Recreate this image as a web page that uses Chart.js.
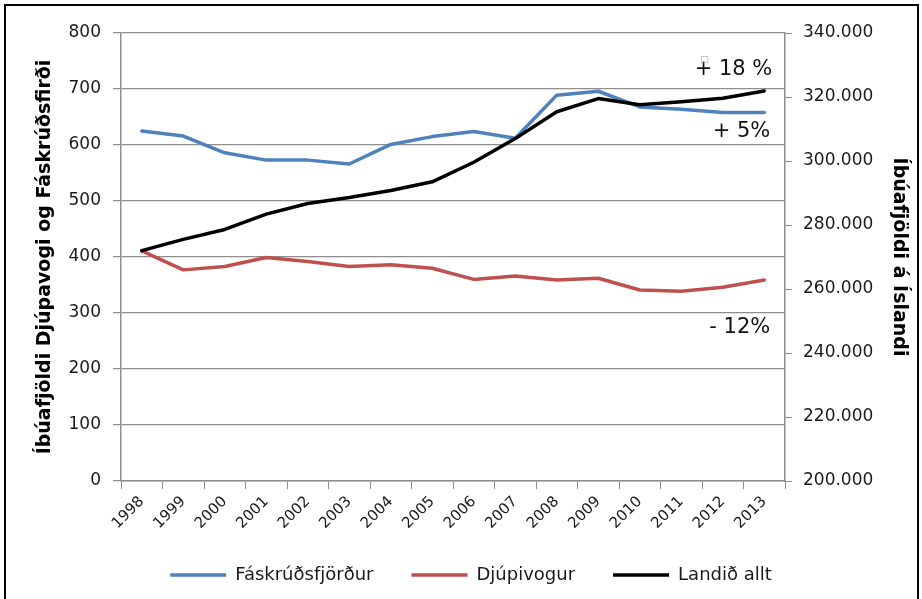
<!DOCTYPE html>
<html>
<head>
<meta charset="utf-8">
<script src="https://cdn.jsdelivr.net/npm/chart.js@4.4.1/dist/chart.umd.min.js"></script>
<style>
  html, body { margin: 0; padding: 0; background: #fff; overflow: hidden; }
  #wrap { position: relative; width: 922px; height: 599px; }
  #frame { position: absolute; left: 4px; top: 4px; width: 911px; height: 600px; border: 2px solid #000; pointer-events: none; }
</style>
</head>
<body>
<div id="wrap">
  <canvas id="c" width="922" height="599"></canvas>
  <div id="frame"></div>
</div>
<script>
const years = ['1998','1999','2000','2001','2002','2003','2004','2005','2006','2007','2008','2009','2010','2011','2012','2013'];
const faskrudsfjordur = [625,616,586,573,573,566,601,615,624,612,689,696,668,664,658,658];
const djupivogur = [411,377,383,399,392,383,386,380,360,366,359,362,341,339,346,359];
const landidAllt = [272000,275500,278600,283400,286700,288600,290800,293500,299600,307000,315400,319500,317600,318500,319600,321900];
const leftTicks = [0,100,200,300,400,500,600,700,800];
const rightTicks = [200000,220000,240000,260000,280000,300000,320000,340000];
const changeLabels = ['+ 18 %', '+ 5%', '- 12%'];

const FONT = "'DejaVu Sans', 'Liberation Sans', sans-serif";
const GRID = '#8e8e8e';
const TXT = '#1a1a1a';

const annot = {
  id: 'annot',
  afterDatasetsDraw(chart) {
    const ctx = chart.ctx;
    const x = chart.scales.x, yl = chart.scales.y, yr = chart.scales.y1;
    const last = years.length - 1;
    const px = x.getPixelForValue(last);
    const y18 = yr.getPixelForValue(landidAllt[last]) - 21;
    ctx.save();
    ctx.fillStyle = '#111';
    ctx.font = '21px ' + FONT;
    ctx.textAlign = 'right';
    ctx.textBaseline = 'middle';
    ctx.fillText(changeLabels[0], px + 8, y18);
    ctx.fillText(changeLabels[1], px + 6, yl.getPixelForValue(faskrudsfjordur[last]) + 19);
    ctx.fillText(changeLabels[2], px + 6, yl.getPixelForValue(djupivogur[last]) + 48);
    ctx.fillStyle = '#999';
    ctx.font = '9px ' + FONT;
    ctx.textAlign = 'left';
    ctx.fillText('\u25A1', px - 64, y18 - 10);
    ctx.restore();
  }
};

new Chart(document.getElementById('c'), {
  type: 'line',
  data: {
    labels: years,
    datasets: [
      { label: 'Fáskrúðsfjörður', data: faskrudsfjordur, yAxisID: 'y', borderColor: '#4F81BD', backgroundColor: '#4F81BD', borderWidth: 3.5, order: 1 },
      { label: 'Djúpivogur', data: djupivogur, yAxisID: 'y', borderColor: '#C0504D', backgroundColor: '#C0504D', borderWidth: 3.5, order: 2 },
      { label: 'Landið allt', data: landidAllt, yAxisID: 'y1', borderColor: '#000000', backgroundColor: '#000000', borderWidth: 3.5, order: 0 }
    ]
  },
  options: {
    responsive: false,
    animation: false,
    devicePixelRatio: 1,
    elements: {
      line: { borderWidth: 3.5, tension: 0, borderJoinStyle: 'round', borderCapStyle: 'round' },
      point: { radius: 0, hoverRadius: 0 }
    },
    layout: { padding: { left: 20, right: 0, top: 33, bottom: 5 } },
    plugins: {
      tooltip: { enabled: false },
      legend: {
        position: 'bottom',
        labels: {
          sort: (a, b) => a.datasetIndex - b.datasetIndex,
          usePointStyle: true,
          pointStyle: 'line',
          pointStyleWidth: 56,
          boxHeight: 18,
          padding: 38,
          color: TXT,
          font: { family: FONT, size: 18 }
        }
      }
    },
    scales: {
      x: {
        offset: true,
        grid: { offset: true, drawOnChartArea: false, drawTicks: true, tickLength: 8, color: GRID, lineWidth: 1 },
        border: { color: GRID, width: 1.5 },
        ticks: { maxRotation: 45, minRotation: 45, autoSkip: false, padding: 4, color: TXT, font: { family: FONT, size: 15 } },
        afterFit(s) { s.height = 47; }
      },
      y: {
        position: 'left',
        min: 0, max: 800,
        afterBuildTicks(s) { s.ticks = leftTicks.map(v => ({ value: v })); },
        grid: { color: GRID, lineWidth: 1.2, tickLength: 8 },
        border: { color: GRID, width: 1.5 },
        ticks: { padding: 12, color: TXT, font: { family: FONT, size: 17 } },
        title: { display: true, text: 'Íbúafjöldi Djúpavogi og Fáskrúðsfirði', color: '#000', font: { family: FONT, size: 19, weight: 'bold' }, padding: { top: 14, bottom: 0 } },
        afterFit(s) { s.width = 101; }
      },
      y1: {
        position: 'right',
        min: 200000, max: 340000,
        afterBuildTicks(s) { s.ticks = rightTicks.map(v => ({ value: v })); },
        grid: { drawOnChartArea: false, color: GRID, tickLength: 7 },
        border: { color: GRID, width: 1.5 },
        ticks: {
          padding: 11, color: TXT, font: { family: FONT, size: 17 },
          callback: v => String(v).replace(/\B(?=(\d{3})+(?!\d))/g, '.')
        },
        title: { display: true, text: 'Íbúafjöldi á Íslandi', color: '#000', font: { family: FONT, size: 19, weight: 'bold' }, padding: { top: 12, bottom: 0 } },
        afterFit(s) { s.width = 137; }
      }
    }
  },
  plugins: [annot]
});
</script>
</body>
</html>
